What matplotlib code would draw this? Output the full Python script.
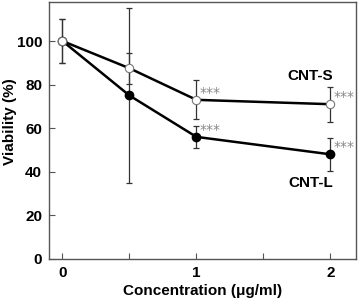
import matplotlib
matplotlib.use("Agg")
import matplotlib.pyplot as plt

plt.rcParams["font.family"] = ["Liberation Sans", "DejaVu Sans"]

conc = [0, 0.5, 1, 2]
cnt_s = [100, 87.5, 73, 71]
cnt_s_err = [10, 7, 9, 8]
cnt_l = [100, 75, 56, 48]
cnt_l_err = [10, 40, 5, 7.5]
signif = ["", "", "***", "***"]

fig = plt.figure(figsize=(3.58, 3.0), dpi=100)
ax = fig.add_axes([0.137, 0.137, 0.857, 0.857])

ax.errorbar(conc, cnt_l, yerr=cnt_l_err, fmt="none", ecolor="#333333",
            elinewidth=0.9, capsize=2.5, capthick=0.9, zorder=1)
ax.errorbar(conc, cnt_s, yerr=cnt_s_err, fmt="none", ecolor="#333333",
            elinewidth=0.9, capsize=2.5, capthick=0.9, zorder=1)
ax.plot(conc, cnt_l, color="black", lw=1.8, marker="o", ms=6,
        mfc="black", mec="black", zorder=3)
ax.plot(conc, cnt_s, color="black", lw=1.8, marker="o", ms=6,
        mfc="white", mec="#777777", mew=0.8, zorder=3)

for x, ys, yl, s in zip(conc, cnt_s, cnt_l, signif):
    if s:
        for y in (ys, yl):
            ax.annotate(s, (x, y), xytext=(2, 0), textcoords="offset points",
                        fontsize=10, color="#888888", family="DejaVu Sans",
                        va="bottom", ha="left")

ax.text(1.85, 84, "CNT-S", fontsize=11, fontweight="bold", ha="center", va="center")
ax.text(1.85, 35, "CNT-L", fontsize=11, fontweight="bold", ha="center", va="center")

ax.set_xlim(-0.1, 2.19)
ax.set_ylim(0, 118)
ax.set_xticks([0, 0.5, 1, 1.5, 2])
ax.set_xticklabels(["0", "", "1", "", "2"])
ax.set_yticks([0, 20, 40, 60, 80, 100])
ax.tick_params(axis="both", direction="in", length=4, width=0.8, color="#555555",
               labelsize=11, pad=5)
for lab in ax.get_xticklabels() + ax.get_yticklabels():
    lab.set_fontweight("bold")
for sp in ax.spines.values():
    sp.set_color("#555555")
    sp.set_linewidth(1.0)

ax.set_xlabel("Concentration (\u03bcg/ml)", fontsize=11, fontweight="bold", labelpad=3)
ax.set_ylabel("Viability (%)", fontsize=11, fontweight="bold")
ax.yaxis.set_label_coords(-0.104, 0.533)

fig.savefig("out.png", dpi=100)
